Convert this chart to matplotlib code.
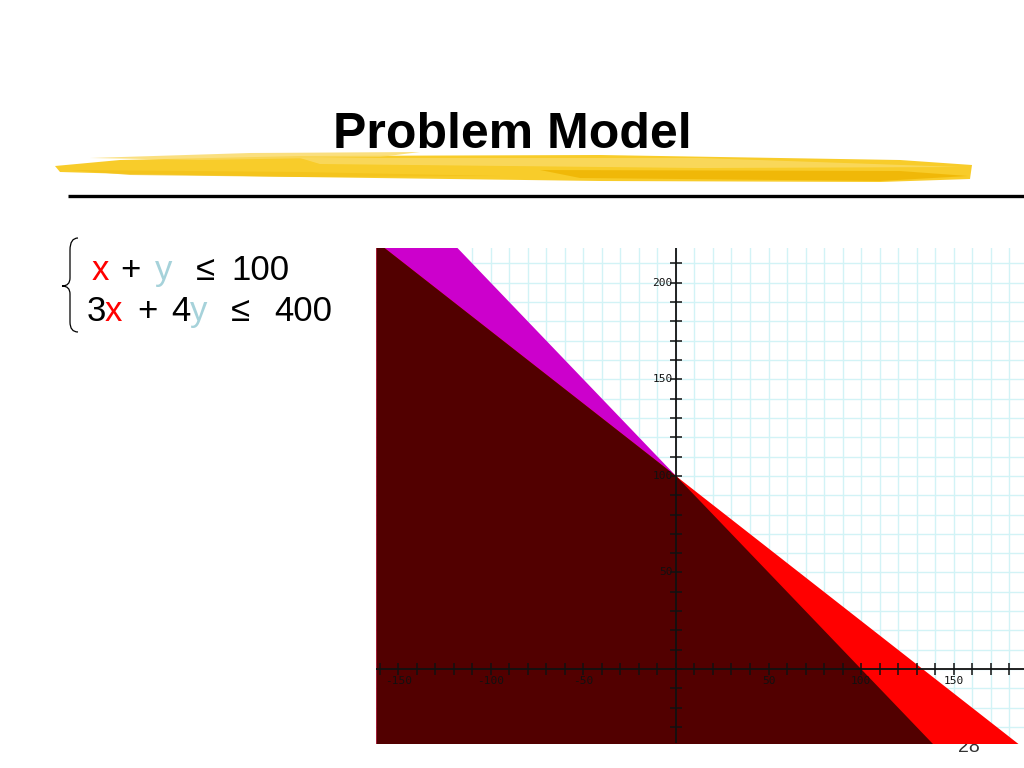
import numpy as np
import matplotlib
matplotlib.use("Agg")
import matplotlib.pyplot as plt
from matplotlib.path import Path
from matplotlib.patches import PathPatch, Polygon

# constraints a*x + b*y <= c
coef_x = [1, 3]
coef_y = [1, 4]
rhs = [100, 400]

x_range = (-162, 188)
y_range = (-38.3, 218)
grid_step = 10
x_ticks = list(range(-160, 190, 10))
y_ticks = list(range(-30, 220, 10))
x_labels = [-150, -100, -50, 50, 100, 150]
y_labels = [50, 100, 150, 200]

dark = "#520000"
magenta = "#cc00cc"
red = "#ff0000"
grid_col = "#d2f3f6"

fig = plt.figure(figsize=(10.24, 7.68), dpi=100)

# slide layer in pixel coords
bg = fig.add_axes([0, 0, 1, 1], zorder=0)
bg.set_xlim(0, 1024)
bg.set_ylim(768, 0)
bg.axis("off")

# yellow brush stroke under the title
bg.add_patch(Polygon([(55, 166), (120, 160), (300, 156), (600, 155), (900, 160),
                      (972, 165), (970, 179), (880, 182), (600, 181), (300, 177),
                      (130, 174), (60, 172)], closed=True, fc="#f8cc2a", ec="none"))
bg.add_patch(Polygon([(90, 158), (250, 153), (420, 152), (380, 157), (200, 160)],
                     closed=True, fc="#f9d860", ec="none", alpha=0.8))
bg.add_patch(Polygon([(300, 158), (700, 158), (960, 167), (700, 168), (320, 164)],
                     closed=True, fc="#fbe07a", ec="none", alpha=0.6))
bg.add_patch(Polygon([(540, 170), (900, 171), (968, 176), (880, 181), (580, 178)],
                     closed=True, fc="#efb400", ec="none", alpha=0.8))
bg.add_patch(Polygon([(70, 170), (300, 172), (500, 176), (300, 177), (130, 175)],
                     closed=True, fc="#f3c21a", ec="none", alpha=0.8))

bg.text(512, 148, "Problem Model", ha="center", va="baseline",
        fontsize=36, fontweight="bold", family=["Liberation Sans", "DejaVu Sans"])

bg.plot([68, 1024], [196, 196], color="black", lw=2.4, solid_capstyle="butt")

# brace
verts = [(78, 238), (70, 238), (70, 250), (70, 278), (70, 286), (62, 286),
         (70, 286), (70, 294), (70, 322), (70, 332), (78, 332)]
codes = [Path.MOVETO, Path.CURVE3, Path.CURVE3, Path.LINETO, Path.CURVE3, Path.CURVE3,
         Path.CURVE3, Path.CURVE3, Path.LINETO, Path.CURVE3, Path.CURVE3]
bg.add_patch(PathPatch(Path(verts, codes), fc="none", ec="black", lw=0.9))

eq_font = dict(fontsize=25, va="baseline", ha="left", family=["Liberation Sans", "DejaVu Sans"])
ycol = "#a6d2da"
row1 = [(92, "x", red), (120, "+", "black"), (155, "y", ycol), (196, "≤", "black"), (231, "100", "black")]
row2 = [(87, "3", "black"), (105, "x", red), (137, "+", "black"), (171, "4", "black"),
        (190, "y", ycol), (231, "≤", "black"), (274, "400", "black")]
for px, s, c in row1:
    bg.text(px, 280, s, color=c, **eq_font)
for px, s, c in row2:
    bg.text(px, 321, s, color=c, **eq_font)

bg.text(969, 752, "28", ha="center", va="baseline", fontsize=14, color="#333333",
        family=["Liberation Sans", "DejaVu Sans"])

# graph
ax = fig.add_axes([376 / 1024, (768 - 743) / 768, (1024 - 376) / 1024, (743 - 248) / 768], zorder=1)
ax.set_xlim(*x_range)
ax.set_ylim(*y_range)
for s in ax.spines.values():
    s.set_visible(False)
ax.set_xticks(np.arange(-160, 190, grid_step))
ax.set_yticks(np.arange(-30, 220, grid_step))
ax.tick_params(length=0, labelbottom=False, labelleft=False)
ax.grid(True, color=grid_col, lw=1.0)
ax.set_axisbelow(True)

xs = np.linspace(x_range[0], x_range[1], 800)
line1 = (rhs[0] - coef_x[0] * xs) / coef_y[0]
line2 = (rhs[1] - coef_x[1] * xs) / coef_y[1]
low = np.minimum(line1, line2)
bottom = y_range[0] - 5
# layered so the region edges have no seams
ax.fill_between(xs, bottom, line1, color=magenta, lw=0, zorder=2)
ax.fill_between(xs, bottom, line2, color=red, lw=0, zorder=2)
ax.fill_between(xs, bottom, low, color=dark, lw=0, zorder=2)

ax.axhline(0, color="#111111", lw=1.3, zorder=3)
ax.axvline(0, color="#111111", lw=1.3, zorder=3)
ax.plot(x_ticks, [0] * len(x_ticks), ls="none", marker="|", ms=8, mew=1.1, color="#111111", zorder=3)
ax.plot([0] * len(y_ticks), y_ticks, ls="none", marker="_", ms=8, mew=1.1, color="#111111", zorder=3)

lab_font = dict(fontsize=8, family=["DejaVu Sans Mono"], color="#111111", zorder=4)
for v in x_labels:
    ax.annotate(str(v), (v, 0), xytext=(0, -5), textcoords="offset points",
                ha="center", va="top", **lab_font)
for v in y_labels:
    ax.annotate(str(v), (0, v), xytext=(-2.5, 0), textcoords="offset points",
                ha="right", va="center", **lab_font)

fig.savefig("out.png", dpi=100)
